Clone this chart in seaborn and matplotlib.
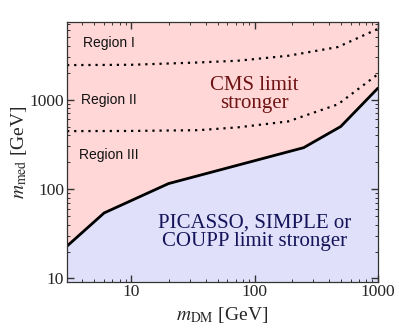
import numpy as np
import pandas as pd
import matplotlib
matplotlib.use('Agg')
import matplotlib.pyplot as plt
import seaborn as sns

# boundary between the two regions (solid line)
mdm_edge = [3, 6, 20, 250, 500, 1000]
mmed_edge = [23, 54, 115, 290, 500, 1340]

# region boundaries (dotted lines)
mdm_reg = [3, 10, 35, 73, 187, 474, 1000]
mmed_reg12 = [2430, 2450, 2600, 2720, 3090, 3870, 6170]
mmed_reg23 = [444, 446, 455, 489, 570, 885, 1920]

region_labels = ['Region I', 'Region II', 'Region III']
region_pos = [4300, 1000, 243]

xlim = (3, 1000)
ylim = (9.2, 7400)

sns.set_theme(style='ticks')
plt.rcParams['font.family'] = ['Liberation Serif', 'DejaVu Serif']
plt.rcParams['mathtext.fontset'] = 'stix'

fig = plt.figure(figsize=(3.99, 3.31), dpi=100)
ax = fig.add_axes([0.168, 0.149, 0.779, 0.785])

ax.fill_between(mdm_edge, mmed_edge, ylim[1], color='#FFD7D7', lw=0, zorder=0.1)
ax.fill_between(mdm_edge, ylim[0], mmed_edge, color='#E0E0FA', lw=0, zorder=0.1)

sns.lineplot(x=mdm_edge, y=mmed_edge, color='black', lw=2, ax=ax)
sns.lineplot(x=mdm_reg, y=mmed_reg12, color='black', lw=1.6, ax=ax)
sns.lineplot(x=mdm_reg, y=mmed_reg23, color='black', lw=1.6, ax=ax)
for ln in ax.lines[1:]:
    ln.set_linestyle((0, (1, 2.2)))

ax.set_xscale('log')
ax.set_yscale('log')
ax.set_xlim(*xlim)
ax.set_ylim(*ylim)

for lab, yv in zip(region_labels, region_pos):
    ax.text(6.57, yv, lab, family='Liberation Sans', fontsize=10,
            ha='center', va='center', color='#111111')

ax.text(100, 1150, 'CMS limit\nstronger', fontsize=15, color='#6E1414',
        ha='center', va='center', linespacing=0.92)
ax.text(100, 33, 'PICASSO, SIMPLE or\nCOUPP limit stronger', fontsize=15,
        color='#14145A', ha='center', va='center', linespacing=0.92)

ax.set_xticks([10, 100, 1000])
ax.set_xticklabels(['10', '100', '1000'])
ax.set_yticks([10, 100, 1000])
ax.set_yticklabels(['10', '100', '1000'])
ax.tick_params(which='both', direction='in', top=True, right=True,
               bottom=True, left=True, labelsize=12.5, pad=2,
               color='#333333')
ax.tick_params(which='major', length=5, width=1)
ax.tick_params(which='minor', length=2.5, width=0.7)
ax.set_axisbelow(False)
for sp in ax.spines.values():
    sp.set_linewidth(0.9)
    sp.set_color('#333333')

ax.set_xlabel(r'$m_{\mathrm{DM}}$ [GeV]', fontsize=14, labelpad=3)
ax.set_ylabel(r'$m_{\mathrm{med}}$ [GeV]', fontsize=14)
ax.yaxis.set_label_coords(-0.123, 0.5)

fig.savefig('out.png', dpi=100)
